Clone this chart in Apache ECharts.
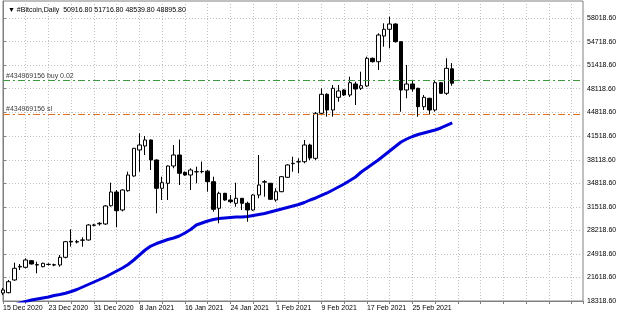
<!DOCTYPE html>
<html><head><meta charset="utf-8">
<script src="https://cdn.jsdelivr.net/npm/echarts@6/dist/echarts.min.js"></script>
<style>html,body{margin:0;padding:0;background:#fff}#c{width:620px;height:317px}</style>
</head><body><div id="c"></div>
<script>
const dates = [
'15 Dec 2020','16 Dec 2020','17 Dec 2020','18 Dec 2020','19 Dec 2020','20 Dec 2020','21 Dec 2020','22 Dec 2020','23 Dec 2020','24 Dec 2020',
'25 Dec 2020','26 Dec 2020','27 Dec 2020','28 Dec 2020','29 Dec 2020','30 Dec 2020','31 Dec 2020','1 Jan 2021','2 Jan 2021','3 Jan 2021',
'4 Jan 2021','5 Jan 2021','6 Jan 2021','7 Jan 2021','8 Jan 2021','9 Jan 2021','10 Jan 2021','11 Jan 2021','12 Jan 2021','13 Jan 2021',
'14 Jan 2021','15 Jan 2021','16 Jan 2021','17 Jan 2021','18 Jan 2021','19 Jan 2021','20 Jan 2021','21 Jan 2021','22 Jan 2021','23 Jan 2021',
'24 Jan 2021','25 Jan 2021','26 Jan 2021','27 Jan 2021','28 Jan 2021','29 Jan 2021','30 Jan 2021','31 Jan 2021','1 Feb 2021','2 Feb 2021',
'3 Feb 2021','4 Feb 2021','5 Feb 2021','6 Feb 2021','7 Feb 2021','8 Feb 2021','9 Feb 2021','10 Feb 2021','11 Feb 2021','12 Feb 2021',
'13 Feb 2021','14 Feb 2021','15 Feb 2021','16 Feb 2021','17 Feb 2021','18 Feb 2021','19 Feb 2021','20 Feb 2021','21 Feb 2021','22 Feb 2021',
'23 Feb 2021','24 Feb 2021','25 Feb 2021','26 Feb 2021','27 Feb 2021','28 Feb 2021','1 Mar 2021','2 Mar 2021','3 Mar 2021','4 Mar 2021'];

const opens = [19442,19484,21267,23100,23050,23977,23420,23134,23440,23400,
23373,24454,26700,26600,26850,26883,28950,29150,29130,31699,
33622,31095,33805,35868,39519,40081,40923,38115,34142,34844,
37273,38817,36388,36009,36450,36473,36550,35069,31334,33440,
32499,32036,32738,32036,31095,33201,35000,34844,32499,33664,
35686,37600,37850,37877,40221,38354,44672,47340,45135,46918,
47943,47241,48786,48182,48505,52394,51917,55525,56466,57210,
54725,47943,48786,48182,45599,46778,45135,48968,47480,50916.8];

const closes = [19863,21029,22910,23180,24075,23514,23373,23612,23471,23373,
24454,26644,26600,26650,26883,28989,28989,29228,31657,33622,
30997,33903,36009,39758,40221,40923,38115,34142,34928,37273,
38817,36248,36009,36711,36473,36500,35069,31193,33440,32499,
32260,32738,32036,31095,33201,34605,35069,32597,33664,35770,
37413,37652,37877,40221,38400,44672,47340,45135,48182,47803,
47241,48968,48084,48547,52394,51917,55665,56466,57210,54725,
47943,48786,48084,45599,46918,45135,48968,47480,50990,48895.8];

const lows = [19161,19400,21169,22671,22910,23450,22208,23050,23300,23200,
23134,24300,25942,26400,25942,26800,28800,28900,29000,31558,
28666,30900,33664,35770,36473,38817,36711,30632,32499,32499,
36950,34605,35900,33903,34844,36248,33664,30856,29228,32400,
32036,31558,31095,29452,31000,32738,32962,32500,32260,33600,
35600,36473,36248,37652,38100,38100,44433,44194,44194,46301,
47100,46965,45837,47943,48406,51800,50751,54023,53799,54600,
44897,46778,47705,44194,45135,44433,44897,47400,47241,48539.8];

const highs = [20144,21267,23696,23514,24314,24075,23836,23700,23612,23560,
24777,26750,28386,26900,27262,29100,29150,29400,31800,34928,
33903,34000,36473,39800,41864,41485,41000,38200,35770,37350,
40221,40981,36500,36950,37174,37877,36711,35770,33664,33500,
33201,34928,32738,32260,33300,38817,35300,34900,34142,35850,
37500,38579,38354,40923,40400,44854,48182,47480,48645,48645,
48050,49811,49109,50513,52619,52500,55904,57308,58235,57300,
54800,51453,49347,48250,47241,46850,49347,49050,52394,51716.8];

const maValues = [17336,17547,17757,18038,18249,18459,18599,18740,18880,19091,
19231,19400,19652,19933,20284,20635,20986,21337,21688,22109,
22530,22951,23443,24075,24777,25479,26040,26391,26672,26953,
27164,27445,27866,28357,28989,29270,29551,29761,29902,29972,
30042,30112,30112,30183,30323,30463,30604,30814,31025,31235,
31446,31657,31867,32148,32499,32780,33131,33482,33903,34324,
34745,35237,35728,36430,36992,37553,38115,38747,39379,40010,
40642,41063,41414,41695,41906,42116,42327,42608,42959,43310];

const priceTicks = [18318.6,21618.6,24918.6,28218.6,31518.6,34818.6,38118.6,41518.6,44818.6,48118.6,51418.6,54718.6,58018.6];
const priceTickLabels = ['18318.60','21618.60','24918.60','28218.60','31518.60','34818.60','38118.60','41518.60','44818.60','48118.60','51418.60','54718.60','58018.60'];

const symbolName = '#Bitcoin,Daily';
const orderId = '#434969156';
const buyLevel = 49250;
const buyLot = '0.02';
const slLevel = 44560;
const lastPrice = 48895.8;

const FONT = 'Liberation Sans';
const last = opens.length - 1;
const candleData = opens.map((o, i) => [i, o, closes[i], lows[i], highs[i]]);
const maData = maValues.map((v, i) => [i, v]);

const chart = echarts.init(document.getElementById('c'), null, {renderer: 'canvas'});
chart.setOption({
  animation: false,
  backgroundColor: '#ffffff',
  title: {
    text: '\u25BC ' + symbolName + '  ' + [opens[last], highs[last], lows[last], closes[last]].map(v => v.toFixed(2)).join(' '),
    left: 3, top: 2,
    textStyle: {fontFamily: FONT, fontSize: 7, fontWeight: 'normal', color: '#000'}
  },
  grid: {left: 2, right: 37, top: 1, bottom: 16, show: true, borderColor: '#808080', borderWidth: 1, backgroundColor: 'transparent'},
  xAxis: {
    type: 'value', min: 0, max: 102, interval: 4,
    axisLine: {show: true, lineStyle: {color: '#808080'}},
    axisTick: {show: true, length: 3, lineStyle: {color: '#808080'}},
    axisLabel: {
      show: true, align: 'left', margin: 4, fontFamily: FONT, fontSize: 7, color: '#000',
      formatter: v => (v % 8 === 0 && v <= last) ? dates[v] : ''
    },
    splitLine: {show: true, lineStyle: {color: '#c0c0c0', type: [1, 2], width: 1}}
  },
  yAxis: {
    type: 'value', position: 'right', min: 18318.6, max: 60438, scale: true,
    axisLine: {show: true, lineStyle: {color: '#808080'}},
    axisTick: {show: true, length: 3, customValues: priceTicks, lineStyle: {color: '#808080'}},
    axisLabel: {
      show: true, margin: 4, fontFamily: FONT, fontSize: 7, color: '#000',
      customValues: priceTicks,
      formatter: v => { const k = priceTicks.indexOf(v); return k >= 0 ? priceTickLabels[k] : ''; }
    },
    splitLine: {show: true, lineStyle: {color: '#c0c0c0', type: [1, 2], width: 1}}
  },
  series: [
    {
      type: 'line', name: 'MA', data: maData, showSymbol: false, symbol: 'none', clip: true,
      lineStyle: {color: '#0000dc', width: 3}, z: 3
    },
    {
      type: 'candlestick', name: symbolName, data: candleData,
      encode: {x: 0, y: [1, 2, 3, 4]},
      barWidth: 4, clip: true, z: 4,
      itemStyle: {color: '#ffffff', color0: '#000000', borderColor: '#000000', borderColor0: '#000000', borderWidth: 1},
      markLine: {
        silent: true, symbol: 'none', animation: false,
        data: [
          {yAxis: buyLevel, lineStyle: {color: '#3c9a3c', width: 1, type: [7, 3, 2, 3]},
           label: {show: true, position: 'insideStartTop', distance: [3, 1], formatter: orderId + ' buy ' + buyLot, fontFamily: FONT, fontSize: 7, color: '#404040'}},
          {yAxis: slLevel, lineStyle: {color: '#e07020', width: 1, type: [7, 3, 2, 3]},
           label: {show: true, position: 'insideStartTop', distance: [3, 2], formatter: orderId + ' sl', fontFamily: FONT, fontSize: 7, color: '#404040'}},
          {yAxis: lastPrice, lineStyle: {opacity: 0},
           label: {show: true, position: 'end', distance: 1, formatter: lastPrice.toFixed(2), fontFamily: FONT, fontSize: 7, color: '#ffffff', backgroundColor: '#000000', padding: [2, 3, 1, 3]}}
        ]
      }
    }
  ]
});
</script></body></html>
